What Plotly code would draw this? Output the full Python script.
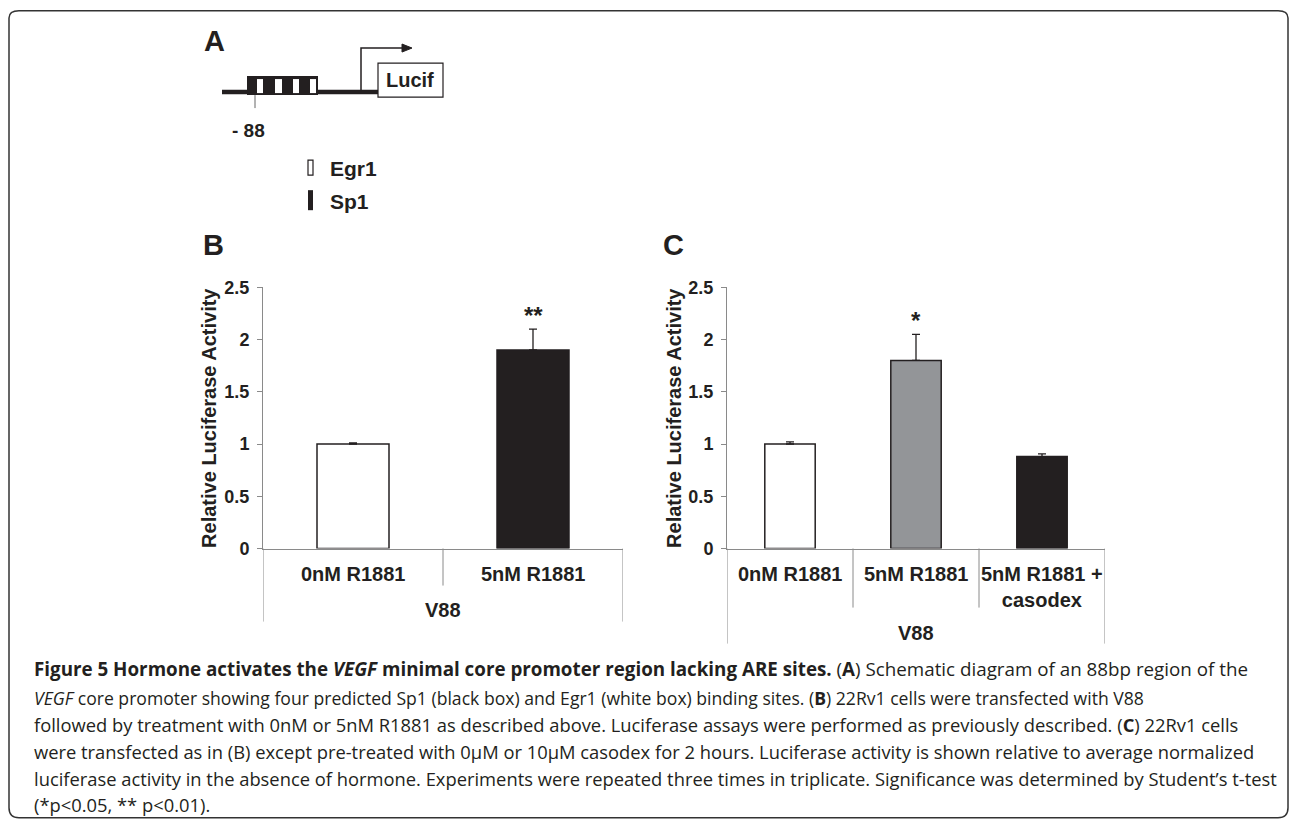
import plotly.graph_objects as go

W, H = 1290, 820          # reference picture size (design coordinates)
# the photo of the page is mapped as  picture_y = OFF + SC * page_y
OFF, SC = 10.0, 0.975
FIG_H = 831

# ---------------- data ----------------
# Panel B
b_categories = ["0nM R1881", "5nM R1881"]
b_values = [1.0, 1.9]
b_errors = [0.01, 0.2]
b_colors = ["#ffffff", "#231f20"]
b_sig = ["", "**"]

# Panel C
c_categories = ["0nM R1881", "5nM R1881", "5nM R1881 +<br>casodex"]
c_values = [1.0, 1.8, 0.88]
c_errors = [0.02, 0.25, 0.025]
c_colors = ["#ffffff", "#939598", "#231f20"]
c_sig = ["", "*", ""]

y_ticks = [0, 0.5, 1, 1.5, 2, 2.5]
y_range = [0, 2.5]
group_label = "V88"
y_title = "Relative Luciferase Activity"

caption_lines = [
    "<b>Figure 5 Hormone activates the <i>VEGF</i> minimal core promoter region lacking ARE sites.</b> (<b>A</b>) Schematic diagram of an 88bp region of the",
    "<i>VEGF</i> core promoter showing four predicted Sp1 (black box) and Egr1 (white box) binding sites. (<b>B</b>) 22Rv1 cells were transfected with V88",
    "followed by treatment with 0nM or 5nM R1881 as described above. Luciferase assays were performed as previously described. (<b>C</b>) 22Rv1 cells",
    "were transfected as in (B) except pre-treated with 0\u03bcM or 10\u03bcM casodex for 2 hours. Luciferase activity is shown relative to average normalized",
    "luciferase activity in the absence of hormone. Experiments were repeated three times in triplicate. Significance was determined by Student\u2019s t-test",
    "(*p&lt;0.05, ** p&lt;0.01).",
]
caption_sizes = [18.8, 17.6, 18.35, 18.35, 18.35, 18.35]

# ---------------- helpers ----------------
INK = "#231f20"
AXC = "#8a8a8a"
SANS = "Liberation Sans, Arial, sans-serif"
CAPF = "Open Sans, Noto Sans, sans-serif"


def px(x):
    return x / W


def py(y):
    page = max((y - OFF) / SC, 0.8)
    return 1 - page / FIG_H


fig = go.Figure()


def add_panel(cats, vals, errs, cols, sig, xa, ya):
    fig.add_trace(go.Bar(
        x=cats, y=vals, width=0.4,
        marker=dict(color=cols, line=dict(color=INK, width=1.5)),
        error_y=dict(type="data", symmetric=False, array=errs,
                     arrayminus=[0] * len(errs), color=INK,
                     thickness=1.3, width=4),
        xaxis=xa, yaxis=ya, showlegend=False, hoverinfo="skip",
    ))
    for c, v, e, s in zip(cats, vals, errs, sig):
        if s:
            fig.add_annotation(x=c, y=v + e, xref=xa, yref=ya, text=s,
                               showarrow=False, yanchor="bottom", yshift=-2,
                               font=dict(family=SANS, size=24, color=INK,
                                         weight="bold"))


add_panel(b_categories, b_values, b_errors, b_colors, b_sig, "x", "y")
add_panel(c_categories, c_values, c_errors, c_colors, c_sig, "x2", "y2")

axis_common_y = dict(range=y_range, tickvals=y_ticks, ticks="outside",
                     ticklen=5, tickcolor=AXC, showline=True, linecolor=AXC,
                     linewidth=1, showgrid=False, zeroline=False,
                     tickfont=dict(family=SANS, size=18, color=INK,
                                   weight="bold"),
                     ticklabelstandoff=4, fixedrange=True)

yd = [py(548), py(287)]
fig.update_layout(
    width=W, height=FIG_H, autosize=False,
    margin=dict(l=0, r=0, t=0, b=0, pad=0),
    paper_bgcolor="white", plot_bgcolor="white",
    showlegend=False,
    xaxis=dict(domain=[px(263), px(623)], anchor="y", type="category",
               range=[-0.5, len(b_categories) - 0.5], showticklabels=False,
               ticks="", showline=True, linecolor=AXC, linewidth=1,
               showgrid=False, zeroline=False, fixedrange=True),
    yaxis=dict(domain=yd, anchor="x", **axis_common_y),
    xaxis2=dict(domain=[px(727), px(1105)], anchor="y2", type="category",
                range=[-0.5, len(c_categories) - 0.5], showticklabels=False,
                ticks="", showline=True, linecolor=AXC, linewidth=1,
                showgrid=False, zeroline=False, fixedrange=True),
    yaxis2=dict(domain=yd, anchor="x2", **axis_common_y),
)

shapes = []


def vline_data(xref, xv, y0, y1):
    shapes.append(dict(type="line", xref=xref, yref="paper", x0=xv, x1=xv,
                       y0=py(y0), y1=py(y1), line=dict(color=AXC, width=1)))


# category separators below the axes
nb = len(b_categories)
for i in range(nb + 1):
    vline_data("x", i - 0.5, 548, 621 if i in (0, nb) else 585)
nc = len(c_categories)
for i in range(nc + 1):
    vline_data("x2", i - 0.5, 548, 643 if i in (0, nc) else 607)

annots = []


def label(xref, xv, y, text, size=20, yanchor="middle"):
    annots.append(dict(xref=xref, yref="paper", x=xv, y=py(y), text=text,
                       showarrow=False, yanchor=yanchor, xanchor="center",
                       font=dict(family=SANS, size=size, color=INK,
                                 weight="bold")))


for i, c in enumerate(b_categories):
    label("x", i, 573, c)
for i, c in enumerate(c_categories):
    label("x2", i, 560, c, yanchor="top")
label("x", (nb - 1) / 2, 609, group_label)
label("x2", (nc - 1) / 2, 632, group_label)

# y titles
for xp in (209, 674):
    annots.append(dict(xref="paper", yref="paper", x=px(xp),
                       y=(yd[0] + yd[1]) / 2, text=y_title, textangle=-90,
                       showarrow=False, xanchor="center", yanchor="middle",
                       font=dict(family=SANS, size=20, color=INK,
                                 weight="bold")))


def ptext(x, y, text, size, xanchor="center", family=SANS, bold=True):
    annots.append(dict(xref="paper", yref="paper", x=px(x), y=py(y),
                       text=text, showarrow=False, xanchor=xanchor,
                       yanchor="middle",
                       font=dict(family=family, size=size, color=INK,
                                 weight="bold" if bold else "normal")))


# panel letters
ptext(214, 41, "A", 29)
ptext(213, 245, "B", 29)
ptext(674, 245, "C", 29)

# schematic A
ptext(410, 80, "Lucif", 20)
ptext(248, 130, "- 88", 19)
ptext(328, 168, "Egr1", 21, xanchor="left")
ptext(328, 201, "Sp1", 21, xanchor="left")


def rect(x0, y0, x1, y1, fill, lw=0, lc=INK):
    shapes.append(dict(type="rect", xref="paper", yref="paper",
                       x0=px(x0), x1=px(x1), y0=py(y0), y1=py(y1),
                       fillcolor=fill, line=dict(color=lc, width=lw)))


def seg(x0, y0, x1, y1, w, c=INK):
    shapes.append(dict(type="line", xref="paper", yref="paper",
                       x0=px(x0), x1=px(x1), y0=py(y0), y1=py(y1),
                       line=dict(color=c, width=w)))


def path(pts, closed=False, fill=None, w=1.5):
    d = "M " + " L ".join(f"{px(x):.6f},{py(y):.6f}" for x, y in pts)
    if closed:
        d += " Z"
    shapes.append(dict(type="path", xref="paper", yref="paper", path=d,
                       fillcolor=fill if fill else "rgba(0,0,0,0)",
                       line=dict(color=INK, width=w)))


seg(222, 92, 378, 92, 4.5)
rect(247, 76, 318, 95, INK)
for x0, x1 in [(257, 263), (275, 282), (293, 299), (310, 316)]:
    rect(x0, 79, x1, 93, "white")
seg(255, 95, 255, 108, 1, "#666666")
path([(361, 92), (361, 48), (404, 48)], w=1.5)
path([(402, 44), (412, 48), (402, 52)], closed=True, fill=INK, w=1)
rect(378, 63, 443, 97, "white", lw=1.2)
rect(308, 160, 313, 175, "white", lw=1.2)
rect(308, 190, 313, 210, INK)

# caption
cap_y = [668, 697, 724, 751, 778, 804]
for t, yy, fs in zip(caption_lines, cap_y, caption_sizes):
    annots.append(dict(xref="paper", yref="paper", x=px(32), y=py(yy),
                       text=t, showarrow=False, xanchor="left",
                       yanchor="middle", align="left",
                       font=dict(family=CAPF, size=fs, color=INK)))

# outer rounded frame
L, T, R, B, r = 9, 8, 1288, 817, 10
fr = (f"M {px(L)},{py(T + r)} Q {px(L)},{py(T)} {px(L + r)},{py(T)} "
      f"L {px(R - r)},{py(T)} Q {px(R)},{py(T)} {px(R)},{py(T + r)} "
      f"L {px(R)},{py(B - r)} Q {px(R)},{py(B)} {px(R - r)},{py(B)} "
      f"L {px(L + r)},{py(B)} Q {px(L)},{py(B)} {px(L)},{py(B - r)} Z")
shapes.append(dict(type="path", xref="paper", yref="paper", path=fr,
                   line=dict(color="#333333", width=1.5)))

fig.update_layout(shapes=shapes,
                  annotations=list(fig.layout.annotations) + annots)

fig.write_html(
    "out.html", config={"displayModeBar": False},
    post_script=("document.body.style.margin='0';"
                 "document.body.style.overflow='hidden';"))
